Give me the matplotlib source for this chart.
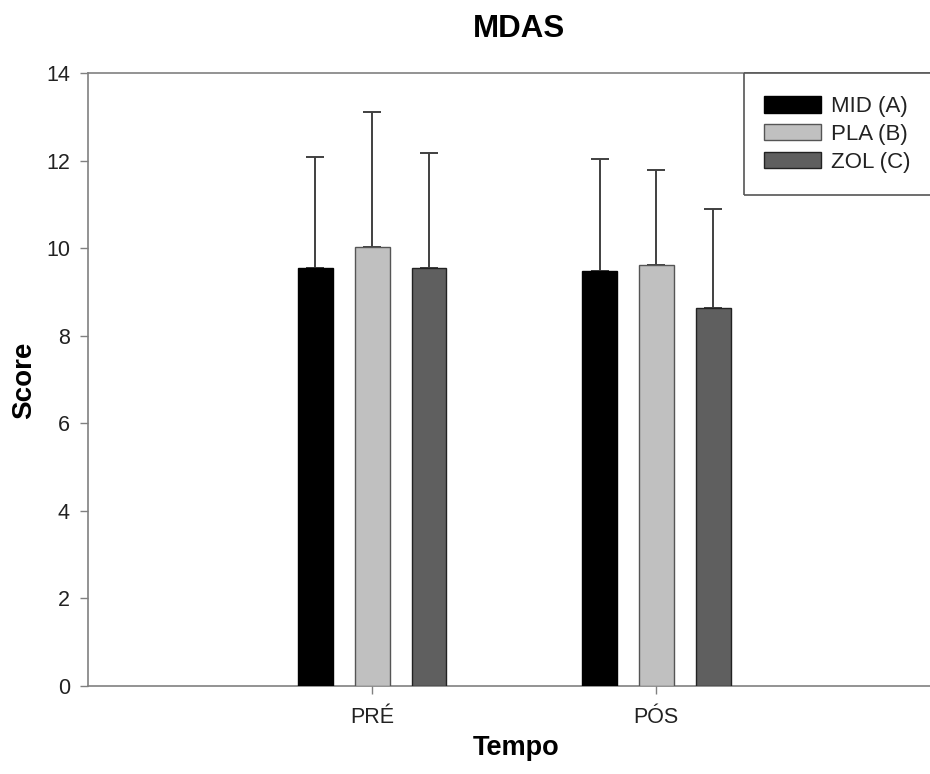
import matplotlib
matplotlib.use("Agg")
import matplotlib.pyplot as plt
from matplotlib.patches import Rectangle
from matplotlib.lines import Line2D
import numpy as np

plt.rcParams['font.family'] = ['Liberation Sans', 'DejaVu Sans']

groups = ["PRÉ", "PÓS"]
series = ["MID (A)", "PLA (B)", "ZOL (C)"]
means = {
    "MID (A)": [9.55, 9.48],
    "PLA (B)": [10.02, 9.61],
    "ZOL (C)": [9.55, 8.63],
}
errs = {
    "MID (A)": [2.53, 2.55],
    "PLA (B)": [3.09, 2.17],
    "ZOL (C)": [2.62, 2.26],
}
colors = ["#000000", "#c0c0c0", "#5f5f5f"]
edges = ["#000000", "#555555", "#222222"]
yticks = [0, 2, 4, 6, 8, 10, 12, 14]

W, H = 930, 774
fig = plt.figure(figsize=(W / 100, H / 100), dpi=100)
left, right, top, bottom = 88, 940.5, 73, 686
ax = fig.add_axes([left / W, 1 - bottom / H, (right - left) / W, (bottom - top) / H])

x = np.arange(len(groups))
width = 0.123
offsets = [-0.2, 0.0, 0.2]
for s, off, c, ec in zip(series, offsets, colors, edges):
    m = np.array(means[s])
    e = np.array(errs[s])
    ax.bar(x + off, m, width=width, color=c, edgecolor=ec, linewidth=1.0, label=s, zorder=3)
    ax.errorbar(x + off, m, yerr=[np.zeros_like(e), e], fmt='none', ecolor='#404040',
                elinewidth=1.4, capsize=6.5, capthick=1.4, zorder=2)

ax.set_xlim(-1, 2)
ax.set_ylim(0, 14)
ax.set_yticks(yticks)
ax.set_xticks(x)
ax.set_xticklabels(groups)
for sp in ['left', 'bottom', 'top']:
    ax.spines[sp].set_color('#808080')
    ax.spines[sp].set_linewidth(1.2)
ax.spines['right'].set_visible(False)
ax.tick_params(axis='both', direction='out', length=6, width=1.0, color='#808080',
               labelsize=15.5, labelcolor='#222222')
ax.tick_params(axis='y', pad=7)
ax.tick_params(axis='x', pad=9)

fig.text(519 / W, 1 - 29 / H, "MDAS", ha='center', va='center', fontsize=22.5, fontweight='bold')
fig.text(24 / W, 1 - 380 / H, "Score", ha='center', va='center', rotation=90, fontsize=20, fontweight='bold')
fig.text(516 / W, 1 - 748 / H, "Tempo", ha='center', va='center', fontsize=19.5, fontweight='bold')

# legend frame: open on the right (it runs to the figure edge)
fx0, fx1, fy0, fy1 = 744 / W, 1.0, 1 - 195 / H, 1 - 73 / H
ax.add_patch(Rectangle((fx0, fy0), fx1 - fx0, fy1 - fy0, transform=fig.transFigure,
                       facecolor='white', edgecolor='none', clip_on=False, zorder=4))
for xs, ys in [([fx0, fx1], [fy1, fy1]), ([fx0, fx0], [fy1, fy0]), ([fx0, fx1], [fy0, fy0])]:
    ax.add_line(Line2D(xs, ys, transform=fig.transFigure, color='#555555', linewidth=1.2,
                       clip_on=False, zorder=4.5, solid_capstyle='butt'))

leg = ax.legend(loc='upper left', bbox_to_anchor=(744 / W, 1 - 76 / H - 0.01, 180 / W, 0.01),
                bbox_transform=fig.transFigure, frameon=False, fontsize=16, handlelength=2.55,
                handleheight=0.78, labelspacing=0.3, borderpad=0.9, handletextpad=0.45,
                borderaxespad=0)
leg.set_zorder(5)
for t in leg.get_texts():
    t.set_color('#222222')

fig.savefig("out.png", dpi=100)
